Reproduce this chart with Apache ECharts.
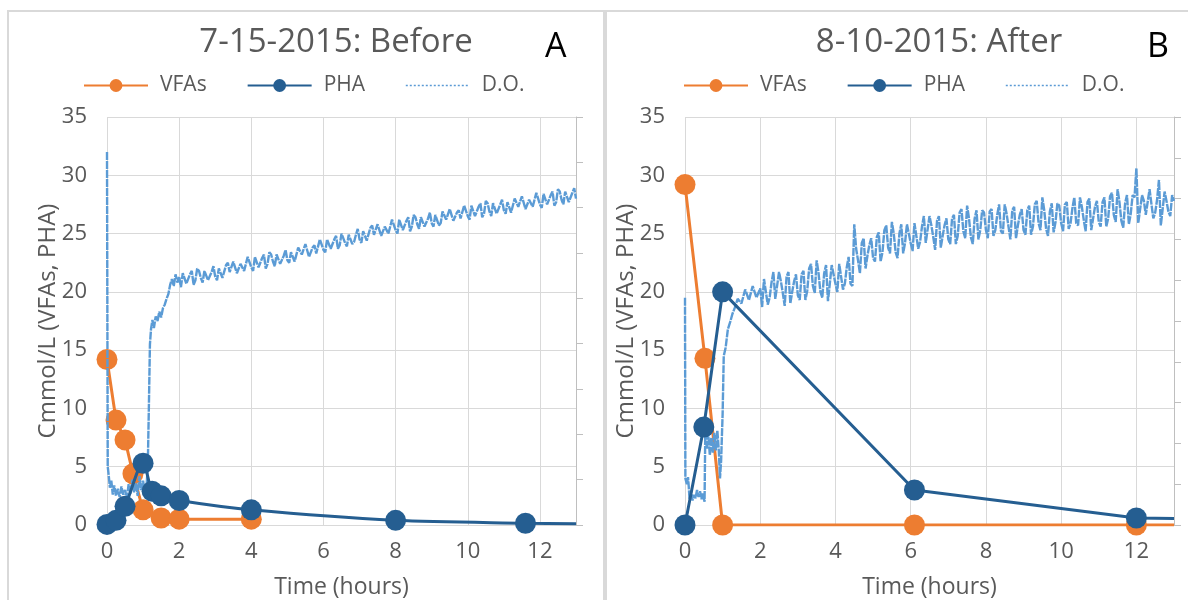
<!DOCTYPE html>
<html>
<head>
<meta charset="utf-8">
<script src="https://cdn.jsdelivr.net/npm/echarts@6/dist/echarts.min.js"></script>
<style>
    html, body { margin: 0; padding: 0; background: #fff; overflow: hidden; width: 1188px; height: 600px; }
    .panel { position: absolute; top: 10px; height: 600px; border: 2px solid #D9D9D9; background: #fff; }
    #chartA { left: 7px; width: 594px; }
    #chartB { left: 605px; width: 600px; }
</style>
</head>
<body>
<div id="chartA" class="panel"></div>
<div id="chartB" class="panel"></div>
<script>
// ---- data ----
// panel A: 7-15-2015 before
var vfaTimeA = [0, 0.25, 0.5, 0.72, 1.0, 1.5, 2.0, 4.0];
var vfaA = [14.2, 9.0, 7.3, 4.4, 1.3, 0.6, 0.5, 0.5];
var phaTimeA = [0, 0.25, 0.5, 1.0, 1.25, 1.5, 2.0, 4.0, 8.0, 11.6, 13];
var phaA = [0.05, 0.4, 1.6, 5.3, 2.9, 2.5, 2.1, 1.3, 0.4, 0.15, 0.1];

// panel B: 8-10-2015 after
var vfaTimeB = [0, 0.53, 1.0, 6.1, 12.0, 13];
var vfaB = [29.2, 14.3, 0, 0, 0, 0];
var phaTimeB = [0, 0.5, 1.0, 6.1, 12.0, 13];
var phaB = [0, 8.4, 20.0, 3.0, 0.6, 0.55];

// D.O. trace (read in left-axis units), first two hours
var doTimeA = [0, 0.02, 0.05, 0.08, 0.12, 0.16, 0.2, 0.25, 0.3, 0.35,
    0.4, 0.45, 0.5, 0.55, 0.6, 0.65, 0.7, 0.75, 0.8, 0.85,
    0.9, 0.95, 1.0, 1.05, 1.1, 1.13, 1.16, 1.19, 1.22, 1.26,
    1.3, 1.35, 1.4, 1.45, 1.5, 1.55, 1.6, 1.65, 1.7, 1.75,
    1.8, 1.85, 1.9, 1.95, 2.0];
var doValA = [32, 5, 4.2, 3.2, 3.8, 2.6, 3.4, 2.5, 3.1, 2.4,
    3.3, 2.6, 3.0, 2.3, 3.5, 2.7, 3.9, 2.8, 3.6, 2.5,
    4.2, 3.0, 3.8, 2.6, 3.5, 5, 10, 15.5, 16.8, 17.6,
    16.9, 17.9, 17.5, 18.3, 17.8, 18.6, 18.9, 19.4, 19.8, 20.6,
    21.1, 20.5, 21.5, 20.8, 21.3];
var doTimeB = [0, 0.01, 0.05, 0.08, 0.1, 0.12, 0.16, 0.2, 0.24, 0.28,
    0.32, 0.36, 0.4, 0.44, 0.47, 0.5, 0.52, 0.54, 0.58, 0.62,
    0.66, 0.7, 0.74, 0.78, 0.82, 0.86, 0.9, 0.93, 0.96, 1.0,
    1.03, 1.08, 1.14, 1.2, 1.26, 1.32, 1.4, 1.5, 1.6, 1.7,
    1.8, 1.9, 2.0];
var doValB = [19.5, 4.0, 3.5, 4.1, 3.3, 2.2, 2.8, 2.1, 2.6, 2.3,
    3.0, 2.4, 2.9, 2.2, 2.7, 2.3, 2.0, 8.2, 6.5, 7.8,
    6.0, 7.5, 6.2, 7.9, 6.4, 8.1, 6.3, 4.0, 5.5, 9.5,
    14.5, 15.2, 16.8, 17.4, 18.1, 18.6, 19.4, 19.0, 20.2, 19.3,
    20.5, 19.5, 20.3];

// D.O. trace after two hours, samples on the tenth of an hour (both panels)
var doTimeTail = [2.1, 2.2, 2.3, 2.4, 2.5, 2.6, 2.7, 2.8, 2.9, 3.0,
    3.1, 3.2, 3.3, 3.4, 3.5, 3.6, 3.7, 3.8, 3.9, 4.0,
    4.1, 4.2, 4.3, 4.4, 4.5, 4.6, 4.7, 4.8, 4.9, 5.0,
    5.1, 5.2, 5.3, 5.4, 5.5, 5.6, 5.7, 5.8, 5.9, 6.0,
    6.1, 6.2, 6.3, 6.4, 6.5, 6.6, 6.7, 6.8, 6.9, 7.0,
    7.1, 7.2, 7.3, 7.4, 7.5, 7.6, 7.7, 7.8, 7.9, 8.0,
    8.1, 8.2, 8.3, 8.4, 8.5, 8.6, 8.7, 8.8, 8.9, 9.0,
    9.1, 9.2, 9.3, 9.4, 9.5, 9.6, 9.7, 9.8, 9.9, 10.0,
    10.1, 10.2, 10.3, 10.4, 10.5, 10.6, 10.7, 10.8, 10.9, 11.0,
    11.1, 11.2, 11.3, 11.4, 11.5, 11.6, 11.7, 11.8, 11.9, 12.0,
    12.1, 12.2, 12.3, 12.4, 12.5, 12.6, 12.7, 12.8, 12.9, 13.0];
var doTailA = [21.6, 20.7, 21.5, 20.6, 22.0, 21.2, 21.8, 21.0, 21.7, 21.3,
    22.0, 21.2, 22.3, 21.7, 22.6, 21.6, 22.4, 21.8, 23.0, 22.1,
    23.0, 22.1, 22.9, 22.0, 23.4, 22.6, 23.2, 22.4, 23.1, 22.7,
    23.4, 22.6, 23.8, 23.2, 24.1, 23.0, 23.8, 23.3, 24.5, 23.6,
    24.5, 23.7, 24.5, 23.7, 25.0, 24.2, 24.9, 24.1, 24.9, 24.5,
    25.2, 24.4, 25.5, 24.9, 25.8, 24.8, 25.6, 25.0, 26.2, 25.3,
    26.2, 25.3, 26.1, 25.2, 26.6, 25.8, 26.4, 25.6, 26.3, 25.9,
    26.6, 25.7, 26.9, 26.2, 27.1, 26.1, 26.8, 26.3, 27.4, 26.5,
    27.4, 26.5, 27.3, 26.4, 27.8, 26.9, 27.6, 26.7, 27.5, 27.0,
    27.7, 26.8, 28.0, 27.3, 28.2, 27.1, 27.9, 27.3, 28.5, 27.5,
    28.4, 27.5, 28.3, 27.4, 28.8, 27.9, 28.6, 27.7, 28.5, 28.0];
var doTailB = [21.1, 18.9, 20.8, 19.4, 21.7, 19.9, 21.3, 19.0, 20.9, 19.7,
    21.5, 19.3, 22.0, 20.5, 22.7, 20.0, 21.6, 19.2, 22.3, 20.7,
    22.4, 20.2, 22.1, 20.7, 25.8, 22.7, 24.2, 22.0, 24.0, 22.9,
    24.7, 22.6, 25.3, 23.8, 26.0, 23.4, 25.0, 23.3, 25.8, 24.2,
    25.9, 23.7, 25.6, 24.2, 26.5, 24.7, 26.1, 23.8, 25.7, 24.5,
    26.3, 24.1, 26.8, 25.2, 27.4, 24.7, 26.3, 24.5, 27.0, 25.3,
    26.9, 24.8, 26.6, 25.2, 27.5, 25.6, 27.0, 24.6, 26.6, 25.3,
    27.0, 24.9, 27.5, 25.9, 28.1, 25.4, 26.9, 25.1, 27.6, 25.9,
    27.5, 25.4, 27.2, 25.9, 28.1, 26.2, 27.7, 25.3, 27.3, 26.0,
    27.7, 25.6, 28.2, 26.6, 28.8, 26.1, 27.6, 25.8, 28.3, 30.6,
    26.0, 27.8, 26.5, 28.7, 26.8, 29.6, 25.8, 27.8, 26.5, 27.8];

// the samples in between (x.x5 hours)
var doTimeMid = [2.05, 2.15, 2.25, 2.35, 2.45, 2.55, 2.65, 2.75, 2.85, 2.95,
    3.05, 3.15, 3.25, 3.35, 3.45, 3.55, 3.65, 3.75, 3.85, 3.95,
    4.05, 4.15, 4.25, 4.35, 4.45, 4.55, 4.65, 4.75, 4.85, 4.95,
    5.05, 5.15, 5.25, 5.35, 5.45, 5.55, 5.65, 5.75, 5.85, 5.95,
    6.05, 6.15, 6.25, 6.35, 6.45, 6.55, 6.65, 6.75, 6.85, 6.95,
    7.05, 7.15, 7.25, 7.35, 7.45, 7.55, 7.65, 7.75, 7.85, 7.95,
    8.05, 8.15, 8.25, 8.35, 8.45, 8.55, 8.65, 8.75, 8.85, 8.95,
    9.05, 9.15, 9.25, 9.35, 9.45, 9.55, 9.65, 9.75, 9.85, 9.95,
    10.05, 10.15, 10.25, 10.35, 10.45, 10.55, 10.65, 10.75, 10.85, 10.95,
    11.05, 11.15, 11.25, 11.35, 11.45, 11.55, 11.65, 11.75, 11.85, 11.95,
    12.05, 12.15, 12.25, 12.35, 12.45, 12.55, 12.65, 12.75, 12.85, 12.95];
var doMidA = [20.4, 21.5, 20.7, 21.8, 21.0, 21.8, 20.8, 21.8, 21.1, 22.2,
    21.0, 22.1, 21.3, 22.5, 21.7, 22.5, 21.5, 22.5, 21.9, 23.0,
    21.8, 22.9, 22.1, 23.2, 22.4, 23.2, 22.2, 23.2, 22.5, 23.6,
    22.5, 23.5, 22.7, 23.9, 23.1, 24.0, 23.0, 24.0, 23.4, 24.5,
    23.4, 24.4, 23.6, 24.8, 24.0, 24.9, 23.9, 24.9, 24.3, 25.4,
    24.2, 25.3, 24.5, 25.7, 24.9, 25.7, 24.7, 25.7, 25.1, 26.2,
    25.0, 26.1, 25.3, 26.4, 25.6, 26.4, 25.4, 26.4, 25.7, 26.8,
    25.6, 26.7, 25.9, 27.0, 26.2, 27.0, 26.0, 27.0, 26.3, 27.4,
    26.2, 27.3, 26.4, 27.6, 26.7, 27.6, 26.5, 27.5, 26.8, 27.9,
    26.7, 27.8, 26.9, 28.1, 27.2, 28.1, 27.0, 28.0, 27.3, 28.4,
    27.2, 28.3, 27.4, 28.6, 27.7, 28.6, 27.5, 28.5, 27.8, 28.9];
var doMidB = [18.7, 21.2, 19.5, 21.7, 19.3, 20.9, 18.8, 21.7, 20.0, 21.5,
    19.3, 21.8, 20.1, 22.4, 19.9, 21.6, 19.5, 22.3, 20.7, 22.2,
    20.0, 22.5, 20.7, 23.0, 20.5, 23.7, 21.6, 24.6, 23.1, 24.6,
    22.6, 25.1, 23.4, 25.7, 23.3, 25.0, 22.9, 25.8, 24.2, 25.7,
    23.5, 26.0, 24.3, 26.5, 24.1, 25.7, 23.6, 26.5, 24.8, 26.3,
    24.1, 26.6, 24.8, 27.1, 24.6, 26.3, 24.1, 27.0, 25.3, 26.8,
    24.6, 27.1, 25.3, 27.5, 25.0, 26.7, 24.5, 27.3, 25.7, 27.1,
    24.9, 27.4, 25.6, 27.8, 25.3, 27.0, 24.8, 27.6, 26.0, 27.4,
    25.2, 27.7, 25.9, 28.1, 25.7, 27.3, 25.2, 28.0, 26.3, 27.8,
    25.6, 28.1, 26.3, 28.5, 26.0, 27.7, 25.5, 28.3, 26.7, 28.1,
    25.9, 28.3, 26.6, 28.8, 26.3, 27.9, 25.7, 28.6, 26.9, 28.3];

// axis ticks
var xMax = 13, xStep = 2;
var yMax = 35, yStep = 5;

var colors = {
    vfa: '#ED7D31',
    pha: '#255E91',
    dox: '#5B9BD5',
    text: '#595959',
    grid: '#D9D9D9',
    axis: '#BFBFBF'
};
var fontName = '"Open Sans", "Noto Sans", sans-serif';

// point pairs; the point sitting on the right edge gets no marker
function pairs(times, vals) {
    return times.map(function (t, i) {
        var p = { value: [t, vals[i]] };
        if (t >= xMax) p.symbol = 'none';
        return p;
    });
}

// whole D.O. record in time order
function doRecord(t0, v0, vTail, vMid) {
    var pts = pairs(t0.concat(doTimeTail, doTimeMid), v0.concat(vTail, vMid));
    pts.sort(function (a, b) { return a.value[0] - b.value[0]; });
    return pts;
}

function buildOption(cfg) {
    return {
        animation: false,
        textStyle: { fontFamily: fontName },
        title: {
            text: cfg.title,
            left: cfg.titleX,
            top: 9,
            textAlign: 'center',
            textStyle: { fontSize: 33, fontWeight: 'normal', color: colors.text, fontFamily: fontName }
        },
        graphic: [{
            type: 'text',
            left: cfg.letterX,
            top: 18,
            style: { text: cfg.letter, fontSize: 34, fill: '#000', fontFamily: fontName }
        }],
        legend: {
            data: ['VFAs', 'PHA', {
                name: 'D.O.',
                itemStyle: { opacity: 0 },
                lineStyle: { type: [2, 2], width: 1.5 }
            }],
            left: cfg.legendX,
            top: 58,
            itemWidth: 64,
            itemHeight: 16,
            itemGap: 40,
            textStyle: { fontSize: 21, color: colors.text, fontFamily: fontName, padding: [0, 0, 0, 7] }
        },
        grid: { left: cfg.gridLeft, top: 105, width: cfg.gridWidth, height: 408, outerBoundsMode: 'none' },
        xAxis: {
            type: 'value',
            min: 0,
            max: xMax,
            interval: xStep,
            name: 'Time (hours)',
            nameLocation: 'middle',
            nameGap: 51,
            nameMoveOverlap: false,
            nameTextStyle: { fontSize: 23, color: colors.text },
            axisLine: { show: true, lineStyle: { color: colors.grid } },
            axisTick: { show: false },
            axisLabel: { fontSize: 22, color: colors.text, margin: 16, showMaxLabel: false },
            splitLine: { lineStyle: { color: colors.grid } }
        },
        yAxis: [{
            type: 'value',
            min: 0,
            max: yMax,
            interval: yStep,
            name: 'Cmmol/L (VFAs, PHA)',
            nameLocation: 'middle',
            nameGap: 47,
            nameMoveOverlap: false,
            nameTextStyle: { fontSize: 24, color: colors.text },
            axisLine: { show: false },
            axisTick: { show: false },
            axisLabel: { fontSize: 22, color: colors.text, margin: 20 },
            splitLine: { lineStyle: { color: colors.grid } }
        }, {
            // secondary axis of the D.O. probe, labels not shown
            type: 'value',
            position: 'right',
            min: 0,
            max: cfg.rightMax,
            interval: 1,
            axisLine: { show: true, lineStyle: { color: colors.axis } },
            axisTick: { show: true, length: 7, lineStyle: { color: colors.axis } },
            axisLabel: { show: false },
            splitLine: { show: false }
        }],
        series: [{
            name: 'VFAs',
            type: 'line',
            symbol: 'circle',
            symbolSize: 21,
            z: 2,
            data: pairs(cfg.vfaTime, cfg.vfa),
            itemStyle: { color: colors.vfa },
            lineStyle: { width: 3, color: colors.vfa }
        }, {
            name: 'D.O.',
            type: 'line',
            symbol: 'none',
            z: 3,
            data: doRecord(cfg.doTime, cfg.doVal, cfg.doTail, cfg.doMid),
            itemStyle: { color: colors.dox },
            lineStyle: { width: 2.4, color: colors.dox, type: [8, 1] }
        }, {
            name: 'PHA',
            type: 'line',
            symbol: 'circle',
            symbolSize: 21,
            smooth: cfg.phaSmooth,
            z: 4,
            data: pairs(cfg.phaTime, cfg.pha),
            itemStyle: { color: colors.pha },
            lineStyle: { width: 3, color: colors.pha }
        }]
    };
}

var chartA = echarts.init(document.getElementById('chartA'));
chartA.setOption(buildOption({
    title: '7-15-2015: Before', titleX: 322, letter: 'A', letterX: 536, legendX: 69,
    gridLeft: 98, gridWidth: 469, rightMax: 9,
    vfaTime: vfaTimeA, vfa: vfaA, phaTime: phaTimeA, pha: phaA, phaSmooth: 0.3,
    doTime: doTimeA, doVal: doValA, doTail: doTailA, doMid: doMidA
}));

var chartB = echarts.init(document.getElementById('chartB'));
chartB.setOption(buildOption({
    title: '8-10-2015: After', titleX: 327, letter: 'B', letterX: 540, legendX: 71,
    gridLeft: 78, gridWidth: 489, rightMax: 10,
    vfaTime: vfaTimeB, vfa: vfaB, phaTime: phaTimeB, pha: phaB, phaSmooth: false,
    doTime: doTimeB, doVal: doValB, doTail: doTailB, doMid: doMidB
}));
</script>
</body>
</html>
